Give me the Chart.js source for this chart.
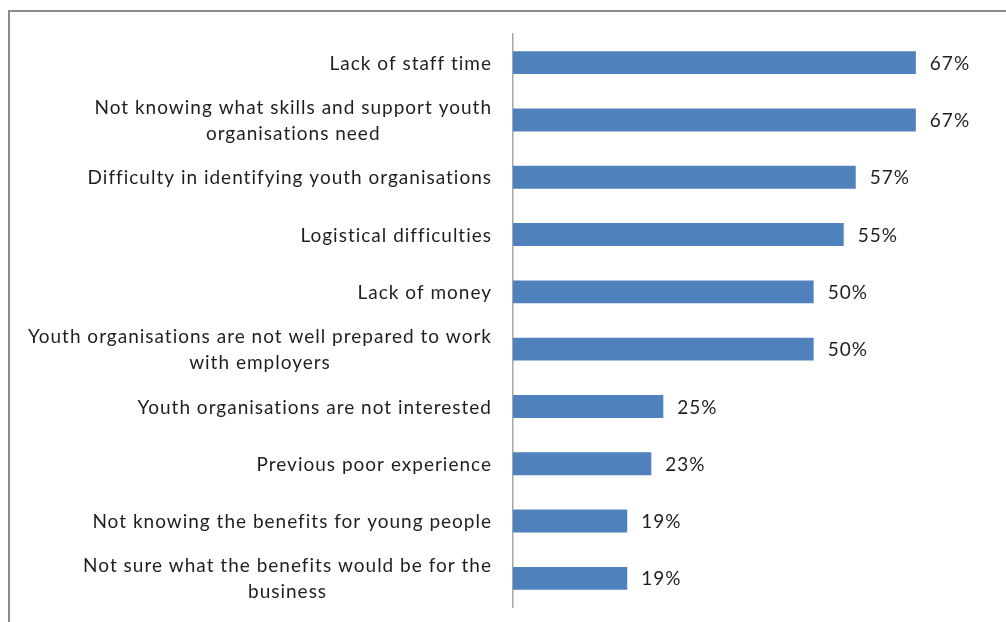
<!DOCTYPE html>
<html>
<head>
<meta charset="utf-8">
<script src="https://cdn.jsdelivr.net/npm/chart.js@4"></script>
<style>
  html, body { margin: 0; padding: 0; background: #fff; overflow: hidden; }
  #wrap { position: relative; width: 1006px; height: 622px; }
  #frame { position: absolute; left: 8px; top: 10px; width: 1020px; height: 640px; border: 2px solid #8a8a8a; box-sizing: border-box; }
  canvas { position: absolute; left: 0; top: 0; }
</style>
</head>
<body>
<div id="wrap">
  <div id="frame"></div>
  <canvas id="barChart" width="1006" height="622"></canvas>
</div>
<script>
const categories = [
    ['Lack of staff time'],
    ['Not knowing what skills and support youth', 'organisations need'],
    ['Difficulty in identifying youth organisations'],
    ['Logistical difficulties'],
    ['Lack of money'],
    ['Youth organisations are not well prepared to work', 'with employers'],
    ['Youth organisations are not interested'],
    ['Previous poor experience'],
    ['Not knowing the benefits for young people'],
    ['Not sure what the benefits would be for the', 'business']
];
const values = [67, 67, 57, 55, 50, 50, 25, 23, 19, 19];

const FONT = '19px Lato, "Open Sans", sans-serif';
const SPACING = '1px';
const AXIS_X = 513;

// category labels: single lines right-aligned, wrapped lines centred on their own block
const categoryLabels = {
    id: 'categoryLabels',
    afterDraw(chart) {
        const ctx = chart.ctx;
        const y = chart.scales.y;
        ctx.save();
        ctx.font = FONT;
        ctx.letterSpacing = SPACING;
        ctx.fillStyle = '#1f1f1f';
        ctx.textAlign = 'center';
        ctx.textBaseline = 'middle';
        const lineH = 26;
        categories.forEach((lines, i) => {
            const w = Math.max(...lines.map(l => ctx.measureText(l).width));
            const cx = AXIS_X - 21 - w / 2;
            const cy = y.getPixelForValue(i) + 1;
            lines.forEach((l, j) => {
                ctx.fillText(l, cx, cy + (j - (lines.length - 1) / 2) * lineH);
            });
        });
        ctx.restore();
    }
};

// percentage next to each bar
const valueLabels = {
    id: 'valueLabels',
    afterDatasetsDraw(chart) {
        const ctx = chart.ctx;
        const meta = chart.getDatasetMeta(0);
        ctx.save();
        ctx.font = FONT;
        ctx.letterSpacing = SPACING;
        ctx.fillStyle = '#1f1f1f';
        ctx.textAlign = 'left';
        ctx.textBaseline = 'middle';
        meta.data.forEach((bar, i) => {
            ctx.fillText(values[i] + '%', bar.x + 14, bar.y + 1);
        });
        ctx.restore();
    }
};

const ctx = document.getElementById('barChart').getContext('2d');
const barChart = new Chart(ctx, {
    type: 'bar',
    data: {
        labels: categories.map(c => c.join(' ')),
        datasets: [{
            data: values,
            backgroundColor: '#4f81bd',
            borderWidth: 0,
            barPercentage: 0.4,
            categoryPercentage: 1
        }]
    },
    options: {
        indexAxis: 'y',
        responsive: false,
        animation: false,
        layout: { padding: { top: 34, bottom: 15, left: 0, right: 12 } },
        plugins: {
            legend: { display: false },
            tooltip: { enabled: false }
        },
        scales: {
            x: {
                display: false,
                min: 0,
                max: 80
            },
            y: {
                grid: { display: false, drawTicks: false },
                border: { display: true, color: '#a6a6a6', width: 1.5 },
                ticks: { display: false },
                afterFit(scale) { scale.width = AXIS_X; }
            }
        }
    },
    plugins: [categoryLabels, valueLabels]
});
</script>
</body>
</html>
